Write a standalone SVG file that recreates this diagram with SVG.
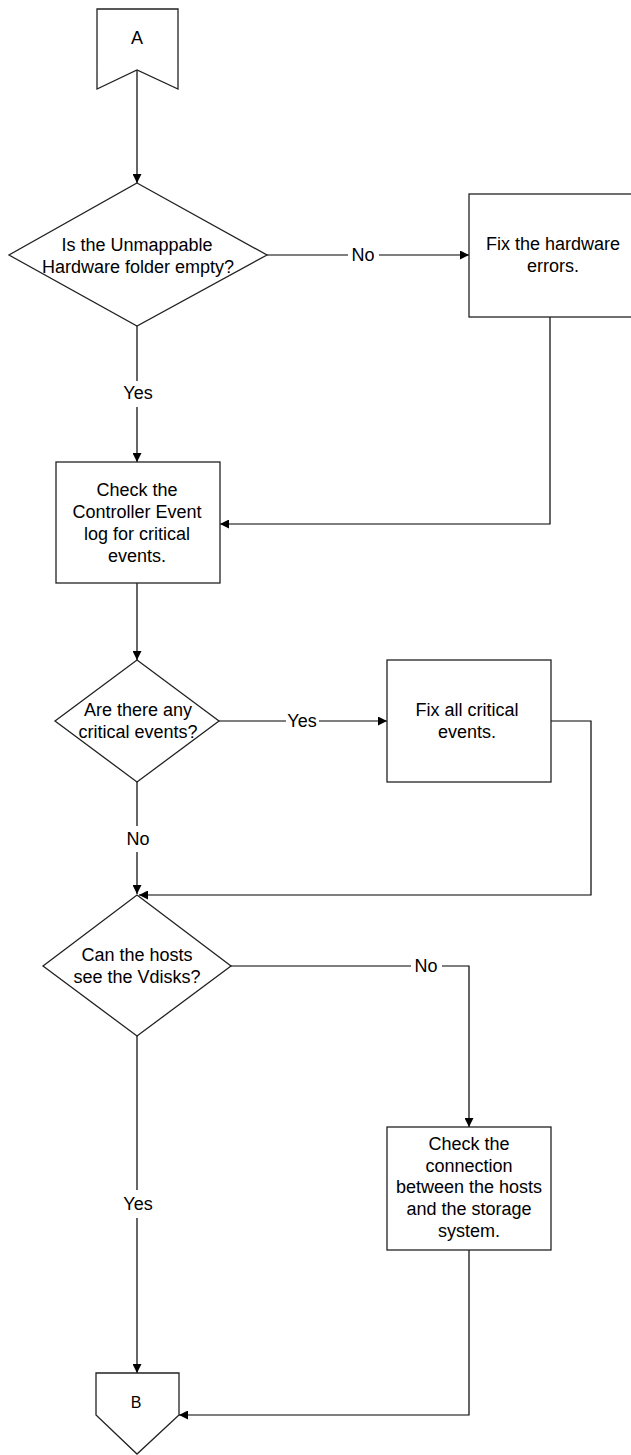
<svg xmlns="http://www.w3.org/2000/svg" width="631" height="1455" viewBox="0 0 631 1455">
<style>
.shape{fill:#fff;stroke:#222;stroke-width:1.3}
.line{fill:none;stroke:#000;stroke-width:1.2}
.t{font-family:"Liberation Sans",Arial,sans-serif;font-size:18px;fill:#000;text-anchor:middle}
.bg{fill:#fff;stroke:none}
</style>
<defs>
<marker id="arr" viewBox="0 0 10 10" refX="10" refY="5" markerWidth="9" markerHeight="9" markerUnits="userSpaceOnUse" orient="auto">
<path d="M0,0 L10,5 L0,10 Z" fill="#000"/>
</marker>
</defs>
<rect width="631" height="1455" fill="#fff"/>
<g id="connectors">
<line class="line" x1="137" y1="70" x2="137" y2="183" marker-end="url(#arr)"/>
<line class="line" x1="267" y1="255" x2="469" y2="255" marker-end="url(#arr)"/>
<line class="line" x1="137" y1="326" x2="137" y2="462" marker-end="url(#arr)"/>
<polyline class="line" points="550,317 550,524 220,524" marker-end="url(#arr)"/>
<line class="line" x1="137" y1="583" x2="137" y2="660" marker-end="url(#arr)"/>
<line class="line" x1="219" y1="721" x2="387" y2="721" marker-end="url(#arr)"/>
<line class="line" x1="137" y1="782" x2="137" y2="894" marker-end="url(#arr)"/>
<polyline class="line" points="550,721 591,721 591,895 139,895" marker-end="url(#arr)"/>
<polyline class="line" points="231,966 469,966 469,1127" marker-end="url(#arr)"/>
<line class="line" x1="137" y1="1036" x2="137" y2="1373" marker-end="url(#arr)"/>
<polyline class="line" points="469,1250 469,1415 179,1415" marker-end="url(#arr)"/>
<rect class="bg" x="348" y="246" width="31" height="18"/>
<text class="t" x="363" y="261">No</text>
<rect class="bg" x="124" y="381" width="27" height="26"/>
<text class="t" x="138" y="399">Yes</text>
<rect class="bg" x="286" y="712" width="33" height="18"/>
<text class="t" x="302" y="727">Yes</text>
<rect class="bg" x="124" y="826" width="27" height="26"/>
<text class="t" x="138" y="845">No</text>
<rect class="bg" x="411" y="957" width="31" height="18"/>
<text class="t" x="426" y="972">No</text>
<rect class="bg" x="124" y="1190" width="27" height="28"/>
<text class="t" x="138" y="1210">Yes</text>
</g>
<g id="nodeA">
<polygon class="shape" points="97,9 178,9 178,89 137,70 97,89"/>
<text class="t" x="137" y="44">A</text>
</g>
<g id="decision1">
<polygon class="shape" points="137,183 267,255 137,326 9,255"/>
<text class="t" x="137" y="251">Is the Unmappable</text>
<text class="t" x="138" y="273">Hardware folder empty?</text>
</g>
<g id="fixHardware">
<rect class="shape" x="469" y="194" width="164" height="123"/>
<text class="t" x="553" y="250">Fix the hardware</text>
<text class="t" x="553" y="272">errors.</text>
</g>
<g id="checkLog">
<rect class="shape" x="56" y="462" width="164" height="121"/>
<text class="t" x="137" y="496">Check the</text>
<text class="t" x="137" y="518">Controller Event</text>
<text class="t" x="137" y="540">log for critical</text>
<text class="t" x="137" y="562">events.</text>
</g>
<g id="decision2">
<polygon class="shape" points="137,660 219,721 137,782 55,721"/>
<text class="t" x="138" y="716">Are there any</text>
<text class="t" x="138" y="738">critical events?</text>
</g>
<g id="fixCritical">
<rect class="shape" x="387" y="660" width="164" height="122"/>
<text class="t" x="467" y="716">Fix all critical</text>
<text class="t" x="467" y="738">events.</text>
</g>
<g id="decision3">
<polygon class="shape" points="137,895 231,966 137,1036 43,966"/>
<text class="t" x="137" y="961">Can the hosts</text>
<text class="t" x="137" y="983">see the Vdisks?</text>
</g>
<g id="checkConnection">
<rect class="shape" x="387" y="1127" width="164" height="123"/>
<text class="t" x="469" y="1150">Check the</text>
<text class="t" x="469" y="1172">connection</text>
<text class="t" x="469" y="1193">between the hosts</text>
<text class="t" x="469" y="1215">and the storage</text>
<text class="t" x="469" y="1237">system.</text>
</g>
<g id="nodeB">
<polygon class="shape" points="96,1373 179,1373 179,1415 137,1454 96,1415"/>
<text class="t" x="136" y="1408" style="font-size:16px">B</text>
</g>
</svg>
